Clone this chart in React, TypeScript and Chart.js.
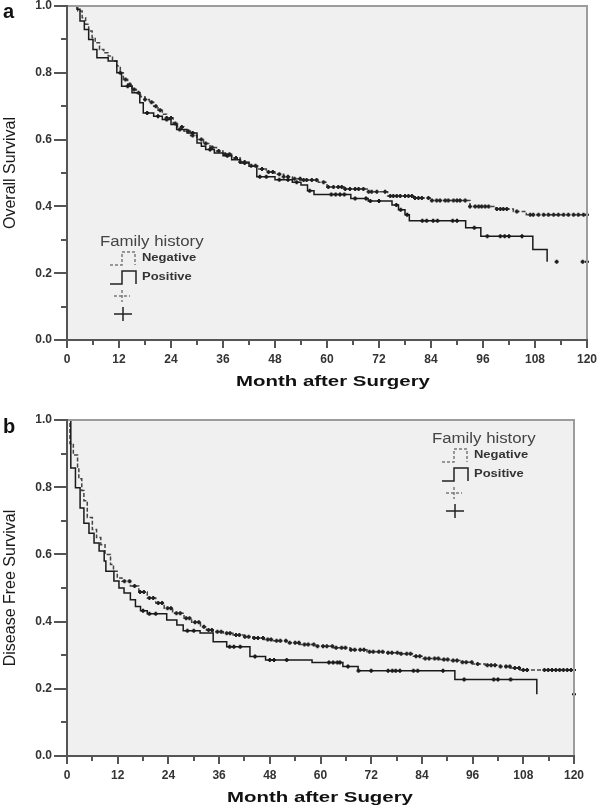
import React, { useEffect, useRef } from 'react';
import { Chart, registerables } from 'chart.js';

Chart.register(...registerables);

// ---------- data ----------
const X_TICK_LABELS = ['0', '12', '24', '36', '48', '60', '72', '84', '96', '108', '120'];
const Y_TICK_LABELS = ['0.0', '0.2', '0.4', '0.6', '0.8', '1.0'];

// Panel a: Overall survival (drop times in months, survival after the drop)
const OS_NEG_T = [0, 2.5, 3.5, 4.3, 5, 5.8, 6.5, 7.5, 8.5, 9.5, 10.5, 11.5, 12.3, 13, 14, 15, 16, 17, 18, 19, 20, 21, 22, 23, 24.5, 25.5, 27, 28.5, 30, 31.5, 33, 34.5, 36, 38, 40, 42, 44, 46, 48, 50, 52, 54, 58, 60, 64, 69.6, 74, 80, 84, 93, 99, 103, 106, 120];
const OS_NEG_S = [1, 0.985, 0.965, 0.945, 0.925, 0.905, 0.89, 0.87, 0.86, 0.85, 0.835, 0.82, 0.8, 0.78, 0.765, 0.75, 0.74, 0.728, 0.72, 0.712, 0.7, 0.688, 0.676, 0.665, 0.648, 0.638, 0.625, 0.612, 0.6, 0.588, 0.576, 0.566, 0.556, 0.545, 0.533, 0.522, 0.512, 0.503, 0.496, 0.489, 0.483, 0.479, 0.472, 0.458, 0.452, 0.444, 0.431, 0.425, 0.418, 0.4, 0.392, 0.385, 0.375, 0.375];
const OS_POS_T = [0, 2.3, 3, 4, 5, 6, 6.9, 9.5, 11.5, 12.6, 15, 16.8, 17.6, 20, 22, 24, 25.3, 27.7, 30, 31, 32, 34, 36, 38, 40, 42, 43.8, 48, 52, 54, 55.5, 57, 65.5, 69.5, 75, 76.5, 78, 79, 92, 95.5, 107.5, 110.8];
const OS_POS_S = [1, 0.99, 0.955, 0.93, 0.9, 0.87, 0.845, 0.835, 0.8, 0.76, 0.74, 0.71, 0.68, 0.67, 0.66, 0.645, 0.63, 0.62, 0.59, 0.58, 0.57, 0.56, 0.552, 0.54, 0.53, 0.52, 0.489, 0.48, 0.472, 0.464, 0.447, 0.436, 0.424, 0.416, 0.404, 0.39, 0.375, 0.357, 0.336, 0.311, 0.271, 0.234];
const OS_NEG_CENS = [13.5, 14.5, 15.5, 16.5, 18, 19.5, 20.5, 21.5, 23, 24, 25, 26.5, 28, 29, 31, 32, 33.5, 35, 36.5, 37.5, 39, 40, 41, 42.5, 43.5, 45, 46.5, 47.5, 49, 50, 51, 52.5, 53.8, 54.6, 55.3, 56.5, 57.6, 59.2, 60.3, 61.5, 62.6, 63.4, 64.2, 65.3, 66.5, 67.3, 68.4, 69.6, 70.3, 71.5, 73.4, 74.6, 75.3, 76.1, 76.9, 78, 78.8, 79.6, 80.3, 81.1, 81.9, 83.4, 84.2, 85.3, 86.1, 87.3, 88, 89.2, 90, 90.7, 91.9, 93, 94.2, 95, 95.7, 96.5, 97.3, 99.2, 100, 100.7, 101.5, 103.8, 106.9, 107.6, 108.8, 110, 111.1, 112.3, 113.4, 114.6, 115.7, 116.9, 118, 119.2, 120];
const OS_POS_CENS = [12.3, 14, 18.5, 21, 23, 26, 29, 33, 37, 41, 44.5, 46, 49, 51, 53, 56, 61, 62, 63, 64, 66.5, 69, 70, 72, 76, 77, 78.5, 82, 83, 84.5, 85.5, 89, 90, 94, 97, 100, 101, 102, 105, 113, 119, 120];

// Panel b: Disease free survival
const DFS_NEG_T = [0, 0.7, 1.5, 2.5, 2.8, 3.5, 4, 4.8, 6, 7, 8, 9, 10.3, 11, 11.9, 13, 15, 17, 19, 21, 23, 25, 27.7, 29.5, 31.6, 33, 34.6, 37, 39.3, 42, 44, 46.5, 48.8, 52, 55, 59, 63, 67, 71, 75, 78.8, 82, 84.3, 88, 90.6, 93, 96, 99, 102.5, 105, 107.2, 120];
const DFS_NEG_S = [1, 0.93, 0.896, 0.86, 0.825, 0.79, 0.76, 0.71, 0.674, 0.65, 0.629, 0.6, 0.57, 0.55, 0.53, 0.52, 0.506, 0.488, 0.47, 0.455, 0.44, 0.425, 0.41, 0.398, 0.385, 0.375, 0.37, 0.365, 0.36, 0.355, 0.351, 0.347, 0.343, 0.337, 0.332, 0.327, 0.322, 0.316, 0.31, 0.307, 0.304, 0.297, 0.29, 0.287, 0.284, 0.279, 0.274, 0.27, 0.266, 0.262, 0.256, 0.256];
const DFS_POS_T = [0, 0.9, 2, 3.1, 4, 5.2, 6.4, 7.6, 8.8, 9.2, 11.1, 12.3, 13.5, 15, 16.2, 17.4, 19, 23.6, 26, 27.5, 31.5, 34.6, 37.8, 43.3, 47, 58, 65.3, 68.9, 91.8, 111.2];
const DFS_POS_S = [1, 0.857, 0.798, 0.738, 0.693, 0.663, 0.634, 0.61, 0.58, 0.55, 0.521, 0.5, 0.485, 0.465, 0.445, 0.432, 0.423, 0.405, 0.39, 0.373, 0.366, 0.34, 0.325, 0.296, 0.286, 0.278, 0.266, 0.254, 0.228, 0.184];
const DFS_NEG_CENS = [13.6, 14.8, 16, 17.3, 18.2, 19.5, 20.4, 21.6, 22.5, 23.8, 24.6, 25.9, 26.8, 28.2, 29, 30.3, 31.2, 32.4, 33.5, 34.3, 35.6, 36.5, 37.8, 38.6, 40, 40.8, 42.1, 43, 44.3, 45.2, 46.4, 47.5, 48.3, 49.6, 50.5, 51.8, 52.7, 54, 54.9, 56.2, 57.1, 58.4, 59.3, 60.6, 61.5, 62.8, 63.7, 65, 65.9, 67.2, 68.1, 69.4, 70.3, 71.6, 72.5, 73.8, 74.7, 76, 76.9, 78.2, 79.1, 80.4, 81.3, 82.6, 83.5, 84.8, 85.7, 87, 87.9, 89.2, 90.1, 91.4, 92.3, 93.6, 94.5, 95.8, 97.2, 99.5, 100.4, 101.3, 102.6, 103.9, 104.8, 106, 107, 108, 108.9, 113, 113.9, 114.8, 115.7, 116.6, 117.5, 118.4, 119.3, 120];
const DFS_POS_CENS = [18, 19.5, 21, 28.5, 30, 38.5, 39.5, 41, 44.5, 48, 49, 52, 62, 63, 64, 64.6, 66.5, 69, 72, 76, 77, 77.8, 78.8, 82, 83, 89, 94, 101, 102, 105, 120];

// ---------- helpers ----------
const FONT = '"Liberation Sans", Arial, sans-serif';

function steps(t: number[], s: number[]) {
  return t.map((x, i) => ({ x, y: s[i] }));
}
function stepValue(t: number[], s: number[], x: number) {
  let v = s[0];
  for (let i = 0; i < t.length; i++) if (t[i] <= x) v = s[i];
  return v;
}
function marks(t: number[], s: number[], c: number[]) {
  return c.map((x) => ({ x, y: stepValue(t, s, x) }));
}

function drawText(ctx: any, s: string, x: number, y: number, font: string, color: string, align: string, sx: number) {
  ctx.save();
  ctx.font = font;
  ctx.fillStyle = color;
  ctx.textAlign = align;
  ctx.textBaseline = 'middle';
  ctx.translate(x, y);
  ctx.scale(sx, 1);
  ctx.fillText(s, 0, 0);
  ctx.restore();
}

function drawLegend(ctx: any, ox: number, oy: number) {
  drawText(ctx, 'Family history', ox, oy, `14px ${FONT}`, '#444', 'left', 1.2);
  ctx.save();
  // Negative symbol (dashed step)
  ctx.lineWidth = 1.5;
  ctx.strokeStyle = '#7a7a7a';
  ctx.setLineDash([3, 2]);
  ctx.beginPath();
  ctx.moveTo(ox + 10, oy + 23);
  ctx.lineTo(ox + 22, oy + 23);
  ctx.lineTo(ox + 22, oy + 10);
  ctx.lineTo(ox + 35, oy + 10);
  ctx.lineTo(ox + 35, oy + 23);
  ctx.stroke();
  // Negative censored (dashed cross)
  ctx.beginPath();
  ctx.moveTo(ox + 14, oy + 54);
  ctx.lineTo(ox + 30, oy + 54);
  ctx.moveTo(ox + 22, oy + 48);
  ctx.lineTo(ox + 22, oy + 60);
  ctx.stroke();
  ctx.setLineDash([]);
  // Positive symbol (solid step)
  ctx.strokeStyle = '#222';
  ctx.beginPath();
  ctx.moveTo(ox + 10, oy + 42);
  ctx.lineTo(ox + 22, oy + 42);
  ctx.lineTo(ox + 22, oy + 29);
  ctx.lineTo(ox + 36, oy + 29);
  ctx.lineTo(ox + 36, oy + 42);
  ctx.stroke();
  // Positive censored (solid cross)
  ctx.beginPath();
  ctx.moveTo(ox + 14, oy + 72);
  ctx.lineTo(ox + 32, oy + 72);
  ctx.moveTo(ox + 23, oy + 65);
  ctx.lineTo(ox + 23, oy + 79);
  ctx.stroke();
  ctx.restore();
  drawText(ctx, 'Negative', ox + 42, oy + 16, `bold 11px ${FONT}`, '#333', 'left', 1.18);
  drawText(ctx, 'Positive', ox + 42, oy + 35, `bold 11px ${FONT}`, '#333', 'left', 1.18);
}

const decorPlugin = {
  id: 'decor',
  beforeDatasetsDraw(chart: any) {
    const { ctx, chartArea: a } = chart;
    ctx.save();
    ctx.fillStyle = '#f0f0f0';
    ctx.fillRect(a.left, a.top, a.right - a.left, a.bottom - a.top);
    ctx.restore();
  },
  afterDraw(chart: any, _args: any, o: any) {
    const { ctx, chartArea: a, scales } = chart;
    ctx.save();
    ctx.lineWidth = 2;
    ctx.strokeStyle = '#9c9c9c';
    ctx.beginPath();
    ctx.moveTo(a.left, a.top);
    ctx.lineTo(a.right, a.top);
    ctx.lineTo(a.right, a.bottom);
    ctx.stroke();
    ctx.strokeStyle = '#555';
    ctx.beginPath();
    ctx.moveTo(a.left, a.top - 1);
    ctx.lineTo(a.left, a.bottom);
    ctx.lineTo(a.right + 1, a.bottom);
    ctx.stroke();
    ctx.beginPath();
    scales.y.ticks.forEach((t: any) => {
      const py = Math.round(scales.y.getPixelForValue(t.value));
      const len = t.label ? 13 : 6;
      ctx.moveTo(a.left - len, py);
      ctx.lineTo(a.left, py);
    });
    scales.x.ticks.forEach((t: any) => {
      const px = Math.round(scales.x.getPixelForValue(t.value));
      const len = t.label ? 8 : 5;
      ctx.moveTo(px, a.bottom);
      ctx.lineTo(px, a.bottom + len);
    });
    ctx.stroke();
    ctx.restore();

    // panel letter
    ctx.save();
    ctx.font = `bold 20px ${FONT}`;
    ctx.fillStyle = '#111';
    ctx.textAlign = 'left';
    ctx.textBaseline = 'alphabetic';
    ctx.fillText(o.letter, 3, o.letterY);
    ctx.restore();

    // y title
    ctx.save();
    ctx.font = `16px ${FONT}`;
    ctx.fillStyle = '#1a1a1a';
    ctx.textAlign = 'center';
    ctx.textBaseline = 'alphabetic';
    ctx.translate(15, (a.top + a.bottom) / 2);
    ctx.rotate(-Math.PI / 2);
    ctx.fillText(o.yTitle, 0, 0);
    ctx.restore();

    // x title
    drawText(ctx, o.xTitle, o.xTitleX, o.xTitleY, `bold 15px ${FONT}`, '#111', 'center', 1.36);

    drawLegend(ctx, o.legendX, o.legendY);
  },
};

type Spec = {
  negT: number[]; negS: number[]; negC: number[];
  posT: number[]; posS: number[]; posC: number[];
  pad: { top: number; right: number; bottom: number };
  decor: any;
};

const PANEL_A: Spec = {
  negT: OS_NEG_T, negS: OS_NEG_S, negC: OS_NEG_CENS,
  posT: OS_POS_T, posS: OS_POS_S, posC: OS_POS_CENS,
  pad: { top: 6, right: 13, bottom: 34 },
  decor: { letter: 'a', letterY: 18, yTitle: 'Overall Survival', xTitle: 'Month after Surgery', xTitleX: 333, xTitleY: 382, legendX: 100, legendY: 242 },
};

const PANEL_B: Spec = {
  negT: DFS_NEG_T, negS: DFS_NEG_S, negC: DFS_NEG_CENS,
  posT: DFS_POS_T, posS: DFS_POS_S, posC: DFS_POS_CENS,
  pad: { top: 16, right: 26, bottom: 22 },
  decor: { letter: 'b', letterY: 29, yTitle: 'Disease Free Survival', xTitle: 'Month after Sugery', xTitleX: 320, xTitleY: 394, legendX: 432, legendY: 35 },
};

function buildConfig(p: Spec): any {
  const tickFont = { family: FONT, size: 12, weight: 'bold' as const };
  return {
    type: 'line',
    data: {
      datasets: [
        {
          label: 'Negative',
          data: steps(p.negT, p.negS),
          stepped: 'before',
          borderColor: '#444',
          borderDash: [4, 2],
          borderWidth: 1.5,
          pointRadius: 0,
          fill: false,
          order: 2,
        },
        {
          label: 'Positive',
          data: steps(p.posT, p.posS),
          stepped: 'before',
          borderColor: '#1a1a1a',
          borderWidth: 1.5,
          pointRadius: 0,
          fill: false,
          order: 1,
        },
        {
          label: 'Negative-censored',
          data: marks(p.negT, p.negS, p.negC),
          showLine: false,
          pointStyle: 'cross',
          pointRadius: 2,
          pointBorderWidth: 2,
          borderColor: '#222',
          clip: false,
          order: 0,
        },
        {
          label: 'Positive-censored',
          data: marks(p.posT, p.posS, p.posC),
          showLine: false,
          pointStyle: 'cross',
          pointRadius: 2,
          pointBorderWidth: 2,
          borderColor: '#1a1a1a',
          clip: false,
          order: 0,
        },
      ],
    },
    options: {
      animation: false,
      responsive: false,
      devicePixelRatio: 1,
      events: [],
      layout: { padding: { left: 0, top: p.pad.top, right: p.pad.right, bottom: p.pad.bottom } },
      plugins: { legend: { display: false }, tooltip: { enabled: false }, decor: p.decor },
      scales: {
        x: {
          type: 'linear',
          min: 0,
          max: 120,
          afterFit: (s: any) => { s.height = 30; s.paddingLeft = 0; s.paddingRight = 0; },
          ticks: {
            stepSize: 6,
            autoSkip: false,
            maxRotation: 0,
            padding: 12,
            color: '#333',
            font: tickFont,
            callback: (v: any) => {
              const n = Math.round(Number(v));
              return n % 12 === 0 ? X_TICK_LABELS[n / 12] : '';
            },
          },
          grid: { display: false, drawTicks: false },
          border: { display: false },
        },
        y: {
          type: 'linear',
          min: 0,
          max: 1,
          afterFit: (s: any) => { s.width = 67; s.paddingTop = 0; s.paddingBottom = 0; },
          ticks: {
            stepSize: 0.1,
            autoSkip: false,
            padding: 15,
            color: '#333',
            font: tickFont,
            callback: (v: any) => {
              const n = Math.round(Number(v) * 10);
              return n % 2 === 0 ? Y_TICK_LABELS[n / 2] : '';
            },
          },
          grid: { display: false, drawTicks: false },
          border: { display: false },
        },
      },
    },
    plugins: [decorPlugin],
  };
}

function Panel({ spec }: { spec: Spec }) {
  const ref = useRef<HTMLCanvasElement>(null);
  useEffect(() => {
    const chart = new Chart(ref.current as HTMLCanvasElement, buildConfig(spec));
    return () => chart.destroy();
  }, [spec]);
  return <canvas ref={ref} width={600} height={404} style={{ display: 'block', width: 600, height: 404 }} />;
}

export default function App() {
  useEffect(() => {
    document.body.style.margin = '0';
  }, []);
  return (
    <div style={{ position: 'absolute', left: 0, top: 0, width: 600, height: 808, background: '#fff' }}>
      <Panel spec={PANEL_A} />
      <Panel spec={PANEL_B} />
    </div>
  );
}
